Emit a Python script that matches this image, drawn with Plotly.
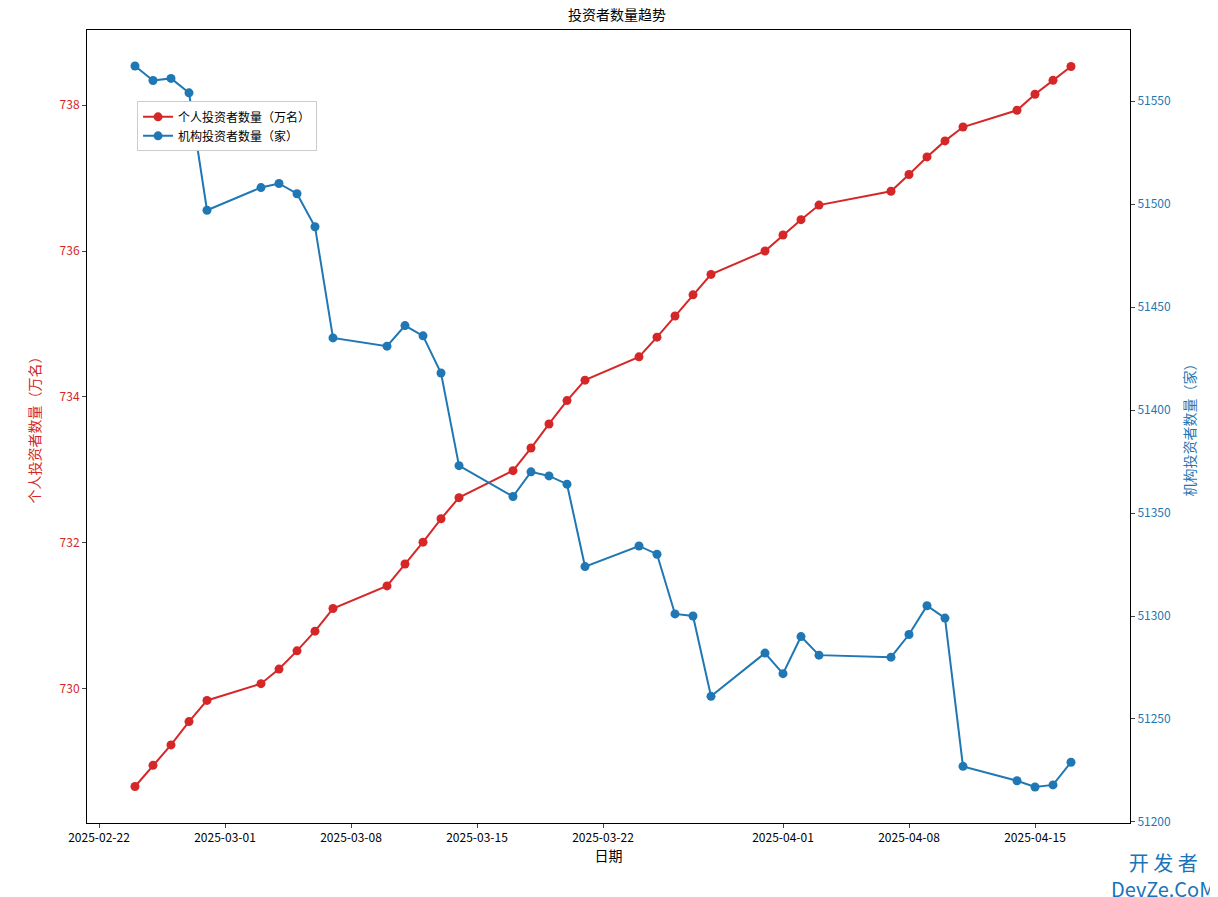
import plotly.graph_objects as go

dates = [
    "2025-02-24", "2025-02-25", "2025-02-26", "2025-02-27", "2025-02-28",
    "2025-03-03", "2025-03-04", "2025-03-05", "2025-03-06", "2025-03-07",
    "2025-03-10", "2025-03-11", "2025-03-12", "2025-03-13", "2025-03-14",
    "2025-03-17", "2025-03-18", "2025-03-19", "2025-03-20", "2025-03-21",
    "2025-03-24", "2025-03-25", "2025-03-26", "2025-03-27", "2025-03-28",
    "2025-03-31", "2025-04-01", "2025-04-02", "2025-04-03",
    "2025-04-07", "2025-04-08", "2025-04-09", "2025-04-10", "2025-04-11",
    "2025-04-14", "2025-04-15", "2025-04-16", "2025-04-17",
]
individual = [
    728.66, 728.95, 729.23, 729.55, 729.84,
    730.07, 730.27, 730.52, 730.79, 731.10,
    731.41, 731.71, 732.01, 732.33, 732.62,
    732.99, 733.30, 733.63, 733.95, 734.23,
    734.55, 734.82, 735.11, 735.40, 735.68,
    736.00, 736.22, 736.43, 736.63,
    736.82, 737.05, 737.29, 737.51, 737.70,
    737.93, 738.15, 738.34, 738.53,
]
institution = [
    51567, 51560, 51561, 51554, 51497,
    51508, 51510, 51505, 51489, 51435,
    51431, 51441, 51436, 51418, 51373,
    51358, 51370, 51368, 51364, 51324,
    51334, 51330, 51301, 51300, 51261,
    51282, 51272, 51290, 51281,
    51280, 51291, 51305, 51299, 51227,
    51220, 51217, 51218, 51229,
]
x_tick_vals = ["2025-02-22", "2025-03-01", "2025-03-08", "2025-03-15",
               "2025-03-22", "2025-04-01", "2025-04-08", "2025-04-15"]

RED = "#d62728"
BLUE = "#1f77b4"
FONT = "Noto Sans CJK SC, DejaVu Sans, sans-serif"

fig = go.Figure()
fig.add_trace(go.Scatter(
    x=dates, y=individual, name="个人投资者数量（万名）",
    mode="lines+markers", line=dict(color=RED, width=2),
    marker=dict(size=9, color=RED),
))
fig.add_trace(go.Scatter(
    x=dates, y=institution, name="机构投资者数量（家）", yaxis="y2",
    mode="lines+markers", line=dict(color=BLUE, width=2),
    marker=dict(size=9, color=BLUE),
))

axis_common = dict(showgrid=False, zeroline=False, showline=True, linecolor="black",
                   linewidth=1, ticks="outside", ticklen=4, automargin=False)

fig.update_layout(
    width=1218, height=897,
    margin=dict(l=79, r=96, t=22, b=82),
    plot_bgcolor="white", paper_bgcolor="white",
    font=dict(family=FONT, size=12, color="black"),
    title=dict(text="投资者数量趋势", x=0.5, xanchor="center", y=0.998, yanchor="top",
               font=dict(size=14), automargin=False),
    xaxis=dict(**axis_common, mirror=True, title=dict(text="日期", standoff=4),
               range=["2025-02-21 08:00", "2025-04-20 06:40"],
               tickvals=x_tick_vals, ticktext=x_tick_vals),
    yaxis=dict(**axis_common, title=dict(text="个人投资者数量（万名）", font=dict(color=RED)),
               range=[728.16, 739.03], tickvals=[730, 732, 734, 736, 738],
               tickfont=dict(color=RED)),
    yaxis2=dict(**axis_common, overlaying="y", side="right",
                title=dict(text="机构投资者数量（家）", font=dict(color=BLUE)),
                range=[51199.5, 51584.5], dtick=50, tickformat="d",
                tickfont=dict(color=BLUE)),
    legend=dict(x=0.048, y=0.91, xanchor="left", yanchor="top",
                bgcolor="white", bordercolor="#cccccc", borderwidth=1,
                font=dict(size=12)),
    annotations=[
        dict(text="开 发 者<br>DevZe.CoM", xref="paper", yref="paper",
             x=1.083, y=-0.104, xanchor="right", yanchor="bottom", showarrow=False,
             align="center", font=dict(size=20, color="#1a73b8")),
    ],
)

fig.write_html("out.html")
